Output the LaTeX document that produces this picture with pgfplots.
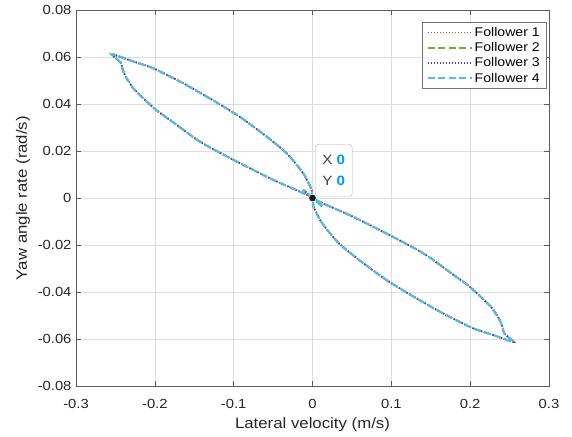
\documentclass[border=0pt]{standalone}
\usepackage{pgfplots}
\usepackage{pgfplotstable}
\usepackage{fontspec}
\setmainfont[FakeStretch=1.12]{Liberation Sans}
\pgfplotsset{compat=1.18}
\definecolor{fone}{rgb}{0.850,0.325,0.098}
\definecolor{ftwo}{rgb}{0.466,0.674,0.188}
\definecolor{fthree}{rgb}{0.494,0.184,0.556}
\definecolor{ffour}{rgb}{0.301,0.745,0.933}
\definecolor{dtblue}{rgb}{0,0.6,1}
\definecolor{dtlabel}{rgb}{0.25,0.25,0.25}
\definecolor{axgray}{rgb}{0.15,0.15,0.15}

% trajectory (all followers coincide)
\pgfplotstableread{
x y
0.012 -0.0035
0 0
-0.0159 0.0027
-0.0497 0.0077
-0.0920 0.0148
-0.1300 0.0215
-0.1491 0.0254
-0.1767 0.0322
-0.1978 0.0373
-0.2146 0.0424
-0.2273 0.0467
-0.2357 0.0509
-0.2405 0.0543
-0.2435 0.0577
-0.2550 0.0612
-0.2400 0.0596
-0.2274 0.0581
-0.2020 0.0552
-0.1639 0.0488
-0.1258 0.0415
-0.0920 0.0345
-0.0581 0.0261
-0.0327 0.0190
-0.0117 0.0105
-0.0010 0.0034
0 0
0.0159 -0.0027
0.0497 -0.0077
0.0920 -0.0148
0.1300 -0.0215
0.1491 -0.0254
0.1767 -0.0322
0.1978 -0.0373
0.2146 -0.0424
0.2273 -0.0467
0.2357 -0.0509
0.2405 -0.0543
0.2435 -0.0577
0.2550 -0.0612
0.2400 -0.0596
0.2274 -0.0581
0.2020 -0.0552
0.1639 -0.0488
0.1258 -0.0415
0.0920 -0.0345
0.0581 -0.0261
0.0327 -0.0190
0.0117 -0.0105
0.0010 -0.0034
0 0
-0.012 0.0035
}\traj

\begin{document}
\begin{tikzpicture}
\begin{axis}[
  width=473pt, height=376pt, scale only axis,
  xmin=-0.3, xmax=0.3, ymin=-0.08, ymax=0.08,
  xtick={-0.3,-0.2,-0.1,0,0.1,0.2,0.3},
  xticklabels={-0.3,-0.2,-0.1,0,0.1,0.2,0.3},
  ytick={-0.08,-0.06,-0.04,-0.02,0,0.02,0.04,0.06,0.08},
  yticklabels={-0.08,-0.06,-0.04,-0.02,0,0.02,0.04,0.06,0.08},
  grid=major,
  grid style={black!13, line width=0.5pt},
  axis line style={axgray!75, line width=0.6pt},
  tick style={axgray!75, line width=0.6pt},
  major tick length=5pt,
  tick align=inside,
  tick label style={font=\fontsize{13.2}{15}\selectfont, text=axgray},
  xticklabel style={yshift=-10pt},
  yticklabel style={xshift=-1pt},
  xlabel={Lateral velocity (m/s)},
  ylabel={Yaw angle rate (rad/s)},
  label style={font=\fontsize{15}{17}\selectfont, text=axgray},
  xlabel style={yshift=-2pt},
  ylabel style={yshift=1pt},
  legend style={at={(1,1)}, anchor=north east, xshift=-3pt, yshift=-12pt,
    font=\fontsize{12.6}{15}\selectfont, draw=black!55,
    fill=white, inner xsep=4pt, inner ysep=3pt, row sep=0.6pt,
    cells={anchor=west}},
  legend image code/.code={\draw[#1] (0pt,0pt) -- (44pt,0pt);},
  legend cell align=left,
  clip=false,
]
\addplot[color=fone, draw=fone, line width=1.7pt, dash pattern=on 1.4pt off 1.6pt, smooth, tension=0.4] table[x=x,y=y]{\traj};
\addlegendentry{Follower 1}
\addplot[color=ftwo, draw=ftwo, line width=1.7pt, dash pattern=on 7pt off 3.5pt, smooth, tension=0.4] table[x=x,y=y]{\traj};
\addlegendentry{Follower 2}
\addplot[color=fthree, draw=fthree, line width=1.7pt, dash pattern=on 1.4pt off 1.6pt, smooth, tension=0.4] table[x=x,y=y]{\traj};
\addlegendentry{Follower 3}
\addplot[color=ffour, draw=ffour, line width=2.1pt, dash pattern=on 7pt off 3.5pt, smooth, tension=0.4] table[x=x,y=y]{\traj};
\addlegendentry{Follower 4}
\node[draw=black!30, fill=white, fill opacity=0.92, text opacity=1, rounded corners=3pt,
  anchor=south west, minimum width=37pt, minimum height=52pt, inner xsep=5pt, inner ysep=4pt,
  align=left, font=\fontsize{13.5}{21}\selectfont]
  at (axis cs:0,0) [xshift=2.5pt, yshift=1.5pt]
  {\textcolor{dtlabel}{X} \textcolor{dtblue}{\bfseries 0}\\\textcolor{dtlabel}{Y} \textcolor{dtblue}{\bfseries 0}};
\addplot[only marks, mark=*, mark size=3.8pt, mark options={fill=black!90, draw=white, line width=0.5pt}, forget plot] coordinates {(0,0)};
\end{axis}
\pgfresetboundingbox
\path (current axis.south west) ++(-76pt,-50pt) rectangle ++(572pt,436pt);
\end{tikzpicture}
\end{document}
